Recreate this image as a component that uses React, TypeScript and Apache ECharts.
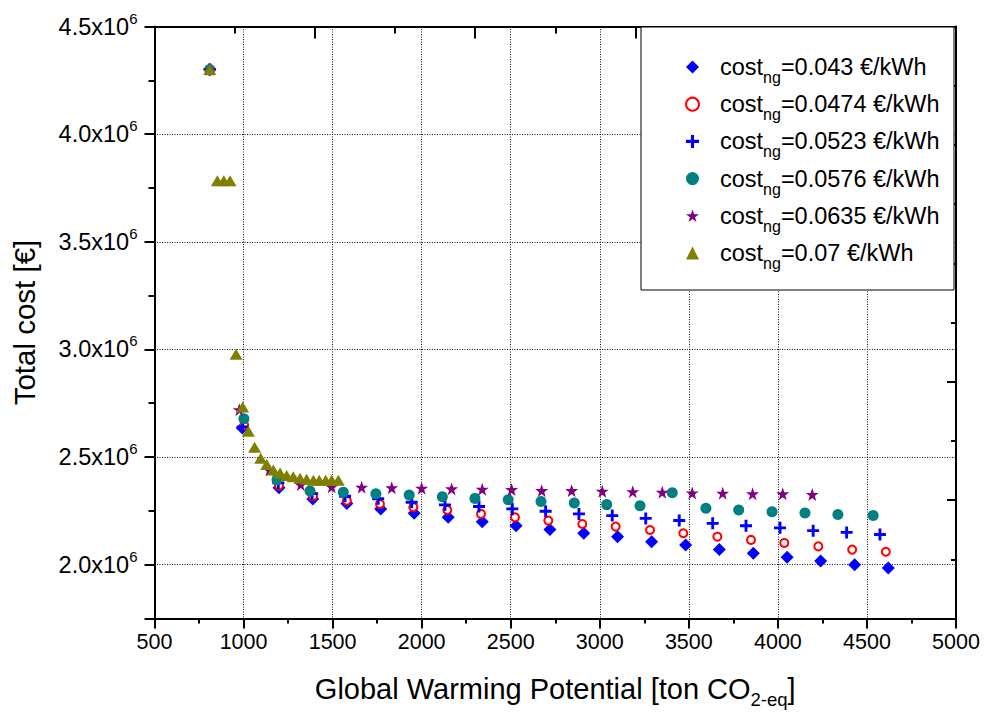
import React, { useEffect, useRef } from 'react';
import * as echarts from 'echarts';

// ---- data (GWP in ton CO2-eq, total cost in €) ----
const priceLabels = ['0.043', '0.0474', '0.0523', '0.0576', '0.0635', '0.07'];

const gwp043 = [810, 993, 1199, 1389, 1580, 1770, 1958, 2149, 2340, 2530, 2720, 2910, 3100, 3291, 3482, 3671, 3862, 4052, 4240, 4431, 4620];
const cost043 = [4.30e6, 2.635e6, 2.357e6, 2.305e6, 2.284e6, 2.259e6, 2.239e6, 2.220e6, 2.200e6, 2.181e6, 2.163e6, 2.146e6, 2.130e6, 2.107e6, 2.092e6, 2.071e6, 2.053e6, 2.034e6, 2.017e6, 2.000e6, 1.985e6];

const gwp0474 = [810, 1004, 1199, 1390, 1580, 1766, 1953, 2144, 2333, 2524, 2711, 2902, 3089, 3282, 3469, 3660, 3849, 4036, 4227, 4417, 4606];
const cost0474 = [4.30e6, 2.647e6, 2.367e6, 2.318e6, 2.297e6, 2.282e6, 2.267e6, 2.254e6, 2.236e6, 2.220e6, 2.205e6, 2.189e6, 2.177e6, 2.161e6, 2.146e6, 2.130e6, 2.115e6, 2.101e6, 2.085e6, 2.070e6, 2.060e6];

const gwp0523 = [810, 995, 1195, 1385, 1570, 1756, 1944, 2131, 2322, 2509, 2696, 2883, 3070, 3258, 3446, 3634, 3821, 4012, 4198, 4386, 4573];
const cost0523 = [4.30e6, 2.640e6, 2.380e6, 2.330e6, 2.318e6, 2.306e6, 2.290e6, 2.278e6, 2.270e6, 2.259e6, 2.248e6, 2.236e6, 2.228e6, 2.215e6, 2.205e6, 2.192e6, 2.181e6, 2.171e6, 2.158e6, 2.150e6, 2.140e6];

const gwp0576 = [810, 1002, 1188, 1373, 1560, 1743, 1930, 2116, 2299, 2486, 2670, 2857, 3039, 3226, 3407, 3596, 3780, 3967, 4152, 4337, 4535];
const cost0576 = [4.30e6, 2.678e6, 2.394e6, 2.342e6, 2.336e6, 2.329e6, 2.324e6, 2.316e6, 2.308e6, 2.302e6, 2.294e6, 2.287e6, 2.279e6, 2.274e6, 2.334e6, 2.262e6, 2.254e6, 2.246e6, 2.240e6, 2.233e6, 2.228e6];

const gwp0635 = [810, 976, 1145, 1321, 1495, 1663, 1832, 2000, 2168, 2340, 2505, 2674, 2842, 3014, 3185, 3351, 3519, 3690, 3858, 4027, 4193];
const cost0635 = [4.30e6, 2.720e6, 2.440e6, 2.372e6, 2.362e6, 2.360e6, 2.357e6, 2.355e6, 2.352e6, 2.350e6, 2.349e6, 2.344e6, 2.344e6, 2.341e6, 2.339e6, 2.336e6, 2.333e6, 2.332e6, 2.329e6, 2.329e6, 2.326e6];

const gwp007 = [810, 853, 889, 924, 958, 995, 1027, 1062, 1096, 1130, 1167, 1205, 1242, 1279, 1317, 1354, 1392, 1425, 1461, 1495, 1532];
const cost007 = [4.30e6, 3.783e6, 3.783e6, 3.783e6, 2.977e6, 2.732e6, 2.620e6, 2.546e6, 2.494e6, 2.465e6, 2.440e6, 2.426e6, 2.414e6, 2.409e6, 2.401e6, 2.397e6, 2.392e6, 2.392e6, 2.392e6, 2.392e6, 2.392e6];

const yTickLabels = ['2.0', '2.5', '3.0', '3.5', '4.0', '4.5'];

const FONT = '"Liberation Sans", Arial, Helvetica, sans-serif';
const STAR = 'path://M50,0L61.8,35.1L98.1,35.1L68.8,56.8L79.4,91.9L50,70L20.6,91.9L31.2,56.8L1.9,35.1L38.2,35.1Z';
const PLUS = 'path://M3.8,0H6.2V3.8H10V6.2H6.2V10H3.8V6.2H0V3.8H3.8Z';

const zip = (xs: number[], ys: number[]) => xs.map((x, i) => [x, ys[i]]);

export default function App() {
  const ref = useRef<HTMLDivElement>(null);
  useEffect(() => {
    if (!ref.current) return;
    const chart = echarts.init(ref.current, undefined, { renderer: 'svg' });
    const styles = [
      { symbol: 'diamond', size: 13, color: '#0000ff', data: zip(gwp043, cost043) },
      { symbol: 'emptyCircle', size: 8, color: '#ff0000', data: zip(gwp0474, cost0474) },
      { symbol: PLUS, size: 12, color: '#0000ff', data: zip(gwp0523, cost0523) },
      { symbol: 'circle', size: 11, color: '#008080', data: zip(gwp0576, cost0576) },
      { symbol: STAR, size: 13, color: '#800080', data: zip(gwp0635, cost0635) },
      { symbol: 'triangle', size: [13, 11], color: '#808000', data: zip(gwp007, cost007) },
    ];
    const black = '#000';
    chart.setOption({
      animation: false,
      backgroundColor: '#fff',
      textStyle: { fontFamily: FONT },
      grid: { left: 154.5, right: 33, top: 26.5, bottom: 99.5, containLabel: false },
      xAxis: [
        {
          type: 'value', min: 500, max: 5000, interval: 500, position: 'bottom',
          axisLine: { show: true, onZero: false, lineStyle: { color: black, width: 2 } },
          axisTick: { show: true, inside: false, length: 10, lineStyle: { color: black, width: 2 } },
          minorTick: { show: true, splitNumber: 2, length: 5, lineStyle: { color: black, width: 2 } },
          axisLabel: { color: black, fontSize: 21.5, margin: 12, fontFamily: FONT, formatter: (v: number) => String(v) },
          splitLine: { show: true, lineStyle: { color: '#111', width: 1, type: [1, 1.5] } },
          name: '{t|Global Warming Potential [ton CO}{u|2-eq}{t|]}',
          nameLocation: 'middle', nameGap: 51,
          nameTextStyle: {
            rich: {
              t: { fontSize: 29, fontFamily: FONT, color: black },
              u: { fontSize: 18.5, fontFamily: FONT, color: black, padding: [20, 0, 0, 0] },
            },
          },
        },
        {
          type: 'value', min: 0, max: 10, interval: 2, position: 'top',
          axisLine: { show: true, onZero: false, lineStyle: { color: black, width: 2 } },
          axisTick: { show: true, inside: true, length: 12, lineStyle: { color: black, width: 2 } },
          minorTick: { show: true, splitNumber: 2, length: 7, lineStyle: { color: black, width: 2 } },
          axisLabel: { show: false },
          splitLine: { show: false },
        },
      ],
      yAxis: [
        {
          type: 'value', min: 1.75e6, max: 4.5e6, minInterval: 5e5, maxInterval: 5e5, position: 'left',
          axisLine: { show: true, onZero: false, lineStyle: { color: black, width: 2 } },
          axisTick: { show: true, inside: false, length: 10, lineStyle: { color: black, width: 2 } },
          axisLabel: {
            margin: 17,
            formatter: (v: number) => {
              const k = v / 5e5;
              if (Math.abs(k - Math.round(k)) > 1e-6) return '';
              const idx = Math.round(k) - 4;
              const lab = yTickLabels[idx];
              if (!lab) return '';
              return `{m|${lab}x10}{p|6}`;
            },
            rich: {
              m: { fontSize: 23.5, fontFamily: FONT, color: black },
              p: { fontSize: 15, fontFamily: FONT, color: black, padding: [0, 0, 17, 0] },
            },
          },
          splitLine: { show: true, lineStyle: { color: '#111', width: 1, type: [1, 1.5] } },
          name: 'Total cost [€]',
          nameLocation: 'middle', nameGap: 115, nameRotate: 90,
          nameTextStyle: { fontSize: 29.5, fontFamily: FONT, color: black },
        },
        {
          type: 'value', min: 0, max: 10, interval: 2, position: 'right',
          axisLine: { show: true, onZero: false, lineStyle: { color: black, width: 2 } },
          axisTick: { show: true, inside: true, length: 9, lineStyle: { color: black, width: 2 } },
          minorTick: { show: true, splitNumber: 2, length: 5, lineStyle: { color: black, width: 2 } },
          axisLabel: { show: false },
          splitLine: { show: false },
        },
        {
          type: 'value', min: 1.75e6, max: 4.5e6, interval: 2.5e5, position: 'left',
          axisLine: { show: false },
          axisTick: { show: true, inside: false, length: 6, lineStyle: { color: black, width: 2 } },
          axisLabel: { show: false },
          splitLine: { show: false },
        },
      ],
      graphic: [
        {
          type: 'rect', z: 3, shape: { x: 641, y: 27, width: 313, height: 263 },
          style: { fill: '#fff', stroke: black, lineWidth: 1 },
        },
      ],
      legend: {
        orient: 'vertical', left: 680, top: 50, itemWidth: 13, itemHeight: 13, itemGap: 6.7,
        z: 5,
        data: priceLabels.map((n, i) => ({ name: n, icon: styles[i].symbol })),
        formatter: (name: string) => `{a0|cost}{s|ng}{a|=${name} €/kWh}`,
        textStyle: {
          rich: {
            a0: { fontSize: 23.5, fontFamily: FONT, color: black, padding: [0, 0, 0, 16] },
            a: { fontSize: 23.5, fontFamily: FONT, color: black },
            s: { fontSize: 16, fontFamily: FONT, color: black, padding: [21, 0, 0, 0] },
          },
        },
      },
      series: styles.map((s, i) => ({
        type: 'scatter', name: priceLabels[i], xAxisIndex: 0, yAxisIndex: 0,
        symbol: s.symbol, symbolSize: s.size,
        itemStyle: { color: s.color, opacity: 1 },
        data: s.data,
      })),
    });
    return () => chart.dispose();
  }, []);
  return <div ref={ref} style={{ position: 'fixed', left: 0, top: 0, width: 989, height: 718 }} />;
}
